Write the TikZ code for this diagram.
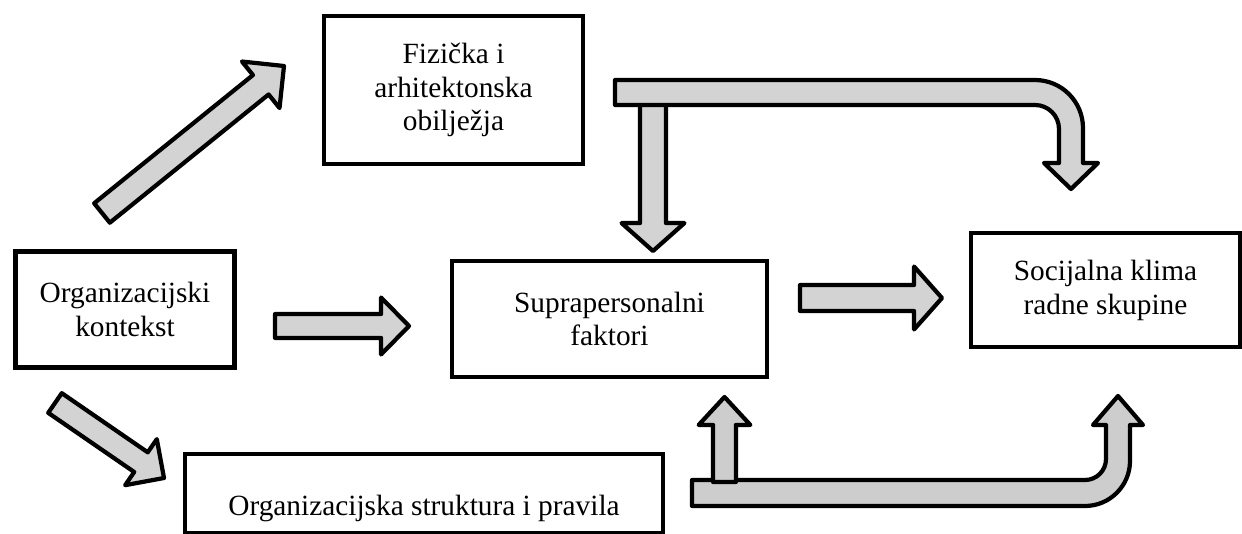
\documentclass[tikz,border=0pt]{standalone}
\usepackage{fontspec}
\setmainfont{Liberation Serif}
\usetikzlibrary{calc}
\definecolor{arrfill}{RGB}{211,211,211}
\definecolor{arrfillb}{RGB}{205,205,205}
\tikzset{
  boxnode/.style={draw, line width=2.5pt, inner sep=0pt, align=center,
    font=\fontsize{16.7pt}{19.3pt}\selectfont},
  lbltext/.style={inner sep=0pt, font=\fontsize{16.7pt}{19.3pt}\selectfont},
  blk/.style={draw, fill=arrfill, line width=2.4pt, line join=round},
}
% #1 options, #2 tail, #3 tip, #4 half shaft, #5 half head, #6 head length
\newcommand\blkarr[6][]{%
  \coordinate (ba) at ($(#3)!#6!(#2)$);
  \filldraw[blk,#1] ($(#2)!#4!90:(#3)$) -- ($(ba)!#4!90:(#3)$) -- ($(ba)!#5!90:(#3)$)
    -- (#3) -- ($(ba)!#5!-90:(#3)$) -- ($(ba)!#4!-90:(#3)$) -- ($(#2)!#4!-90:(#3)$) -- cycle;}
\begin{document}
\begin{tikzpicture}[x=0.02cm,y=-0.02cm]
\useasboundingbox (0,0) rectangle (1242,534);
% boxes
\node[boxnode, minimum width=5.18cm, minimum height=2.96cm] (fiz) at (453.5,90) {Fizička i\\arhitektonska\\obilježja};
\node[boxnode, minimum width=4.38cm, minimum height=2.32cm] (ok) at (125,309.5) {Organizacijski\\kontekst};
\node[boxnode, minimum width=6.30cm, minimum height=2.32cm] (sp) at (609.5,319) {Suprapersonalni\\faktori};
\node[boxnode, minimum width=5.38cm, minimum height=2.28cm] (sk) at (1105.5,290) {Socijalna klima\\radne skupine};
\node[boxnode, minimum width=9.56cm, minimum height=1.58cm] (os) at (424,493.5) {};
\node[lbltext] (ostext) at (424,508) {Organizacijska struktura i pravila};
% arrow end points
\coordinate (a1t) at (102,213); \coordinate (a1h) at (284,66);
\coordinate (a2t) at (55,403);  \coordinate (a2h) at (164,478);
\coordinate (a3t) at (275,326); \coordinate (a3h) at (409,326);
\coordinate (a4t) at (800,298); \coordinate (a4h) at (942,298);
\coordinate (a6t) at (653,100); \coordinate (a6h) at (653,251);
\coordinate (a7t) at (724.5,482); \coordinate (a7h) at (724.5,397);
% straight arrows
\blkarr{a1t}{a1h}{7.1pt}{17pt}{17pt}
\blkarr{a2t}{a2h}{6.8pt}{15.9pt}{15.9pt}
\blkarr{a3t}{a3h}{6.8pt}{16.2pt}{15.9pt}
\blkarr{a4t}{a4h}{7.4pt}{17.9pt}{15.9pt}
\blkarr{a6t}{a6h}{7.4pt}{17.9pt}{15.9pt}
% top bent arrow
\filldraw[blk] (615,80) -- (1035,80) .. controls (1061.5,80) and (1083,101.5) .. (1083,128)
  -- (1083,163) -- (1098,163) -- (1071,189) -- (1044,163) -- (1059,163) -- (1059,129)
  .. controls (1059,115.75) and (1048.25,105) .. (1035,105) -- (615,105) -- cycle;
% bottom bent arrow
\filldraw[blk, fill=arrfillb] (692,480) -- (1085,480) .. controls (1096.6,480) and (1106,470.6) .. (1106,459)
  -- (1106,425) -- (1093,425) -- (1118,396) -- (1143,425) -- (1130,425) -- (1130,461)
  .. controls (1130,485.8) and (1109.8,506) .. (1085,506) -- (692,506) -- cycle;
\blkarr[fill=arrfillb]{a7t}{a7h}{6.5pt}{14.7pt}{15.9pt}
\end{tikzpicture}
\end{document}
